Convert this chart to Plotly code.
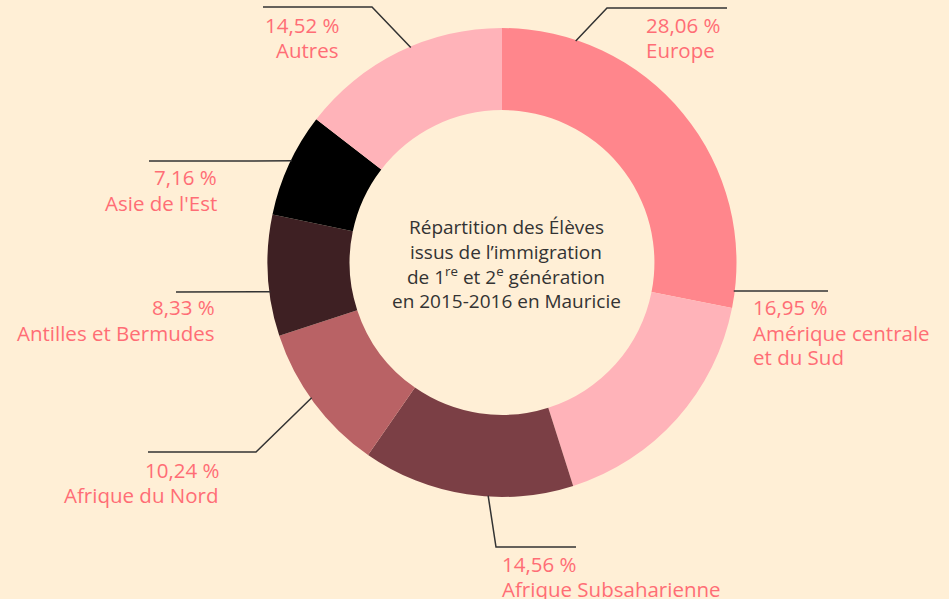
import math
import plotly.graph_objects as go

# ---- data ----
categories = ["Europe", "Amérique centrale<br>et du Sud", "Afrique Subsaharienne",
              "Afrique du Nord", "Antilles et Bermudes", "Asie de l'Est", "Autres"]
values = [28.06, 16.95, 14.56, 10.24, 8.33, 7.16, 14.52]
value_labels = ["28,06 %", "16,95 %", "14,56 %", "10,24 %", "8,33 %", "7,16 %", "14,52 %"]
colors = ["#FF868C", "#FFB3B9", "#7B3F45", "#B96265", "#3E2023", "#000000", "#FFB3B9"]

title_lines = ["Répartition des Élèves", "issus de l’immigration",
               "de 1<sup>re</sup> et 2<sup>e</sup> génération", "en 2015-2016 en Mauricie"]

W, H = 949, 599
BG = "#FFEFD6"
TXT = "#FF6D75"
LINE = "#333333"
FONT = "Open Sans"
LABEL_SIZE = 20.5
LINE_STEP = 25

# pie geometry (pixels)
cx, cy, R = 502, 262.5, 234.5
hole = 0.65

def px(x):
    return x / W

def py(y):
    return 1 - y / H

fig = go.Figure(go.Pie(
    labels=categories, values=values, sort=False, direction="clockwise",
    rotation=0, hole=hole, textinfo="none", hoverinfo="label+percent",
    marker=dict(colors=colors, line=dict(width=0)),
    domain=dict(x=[px(cx - R), px(cx + R)], y=[py(cy + R), py(cy - R)]),
    showlegend=False,
))

# leader-line styling: anchor angle on ring (deg clockwise from top), elbow, end (pixels)
leaders = [
    (18.4, (607, 8), (727, 8)),
    (97.0, None, (828, 291)),
    (183.4, (496, 547), (576, 547)),
    (234.6, (256, 452), (148, 452)),
    (262.8, None, (176, 292)),
    (295.8, None, (149, 161)),
    (337.0, (372, 7), (263, 7)),
]
# label text placement: (x, first-line centre y, xanchor)
label_pos = [
    (644, 25, "left"),
    (751, 307.5, "left"),
    (500, 564, "left"),
    (221, 469.5, "right"),
    (217, 307.5, "right"),
    (219, 177.5, "right"),
    (341, 24.5, "right"),
]

shapes = []
annotations = []
for i, (ang, elbow, end) in enumerate(leaders):
    a = math.radians(ang)
    ax = cx + (R - 1) * math.sin(a)
    ay = cy - (R - 1) * math.cos(a)
    pts = [(ax, ay)] + ([elbow] if elbow else []) + [end]
    path = "M " + " L ".join(f"{px(x)},{py(y)}" for x, y in pts)
    shapes.append(dict(type="path", path=path, xref="paper", yref="paper",
                       line=dict(color=LINE, width=1.5)))
    x, y0, anc = label_pos[i]
    lines = [value_labels[i]] + categories[i].split("<br>")
    for k, t in enumerate(lines):
        annotations.append(dict(
            x=px(x), y=py(y0 + k * LINE_STEP), xref="paper", yref="paper",
            xanchor=anc, yanchor="middle", align=anc, showarrow=False, text=t,
            font=dict(family=FONT, size=LABEL_SIZE, color=TXT),
        ))

title_y = [227, 251.5, 276, 301]
for t, y in zip(title_lines, title_y):
    annotations.append(dict(
        x=px(506), y=py(y), xref="paper", yref="paper", xanchor="center",
        yanchor="middle", align="center", showarrow=False, text=t,
        font=dict(family=FONT, size=19, color="#333333"),
    ))

fig.update_layout(
    width=W, height=H, margin=dict(l=0, r=0, t=0, b=0),
    paper_bgcolor=BG, plot_bgcolor=BG,
    shapes=shapes, annotations=annotations,
)

fig.write_html("out.html")
